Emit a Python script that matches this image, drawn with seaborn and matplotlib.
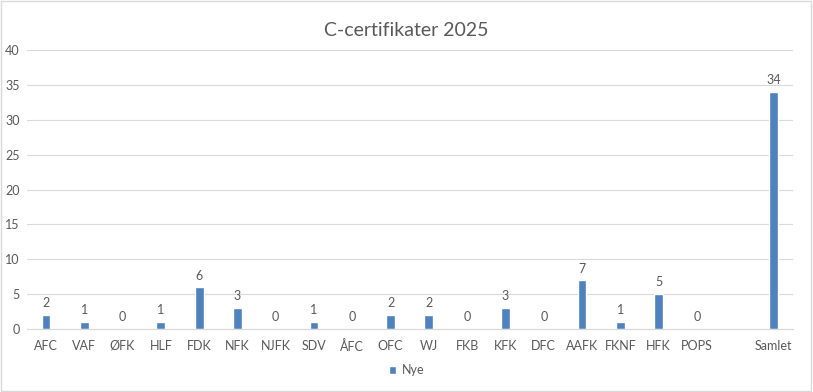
import matplotlib
matplotlib.use("Agg")
import matplotlib.pyplot as plt
from matplotlib.patches import Patch, Rectangle
import pandas as pd
import seaborn as sns

# Data
klubber = ["AFC", "VAF", "ØFK", "HLF", "FDK", "NFK", "NJFK", "SDV", "ÅFC", "OFC",
           "WJ", "FKB", "KFK", "DFC", "AAFK", "FKNF", "HFK", "POPS", "Samlet"]
nye = [2, 1, 0, 1, 6, 3, 0, 1, 0, 2, 2, 0, 3, 0, 7, 1, 5, 0, 34]
# empty slot between POPS and Samlet
rekkefolge = klubber[:-1] + [""] + klubber[-1:]
y_ticks = [0, 5, 10, 15, 20, 25, 30, 35, 40]

BAR = "#4F81BD"
TEXT = "#595959"
GRID = "#D9D9D9"

sns.set_style("white")
plt.rcParams["font.family"] = ["Lato", "DejaVu Sans"]

df = pd.DataFrame({"klubb": klubber, "nye": nye})

fig = plt.figure(figsize=(8.13, 3.92), dpi=100)
ax = fig.add_axes([0.033, 0.161, 0.942, 0.711])

sns.barplot(data=df, x="klubb", y="nye", order=rekkefolge, color=BAR,
            width=0.23, saturation=1, ax=ax)

ax.bar_label(ax.containers[0], fmt="%g", padding=4, fontsize=9, color=TEXT)

ax.set_ylim(0, 40)
ax.set_yticks(y_ticks)
ax.set_xlim(-0.5, len(rekkefolge) - 0.5)
ax.yaxis.grid(True, color=GRID, linewidth=0.8)
ax.set_axisbelow(True)
for side in ["left", "right", "top"]:
    ax.spines[side].set_visible(False)
ax.spines["bottom"].set_color(GRID)
ax.tick_params(axis="both", length=0, labelsize=9, colors=TEXT)
ax.tick_params(axis="x", pad=8)
ax.tick_params(axis="y", pad=5)
ax.set_xlabel("")
ax.set_ylabel("")

fig.suptitle("C-certifikater 2025", y=0.945, fontsize=14, color=TEXT)

fig.legend(handles=[Patch(facecolor=BAR, label="Nye")], loc="center",
           bbox_to_anchor=(0.5, 0.056), frameon=False, fontsize=9,
           handlelength=0.6, handleheight=0.6, handletextpad=0.4,
           labelcolor=TEXT)

fig.patches.append(Rectangle((0.001, 0.002), 0.997, 0.995, transform=fig.transFigure,
                             fill=False, edgecolor=GRID, linewidth=1))

fig.savefig("out.png", dpi=100)
